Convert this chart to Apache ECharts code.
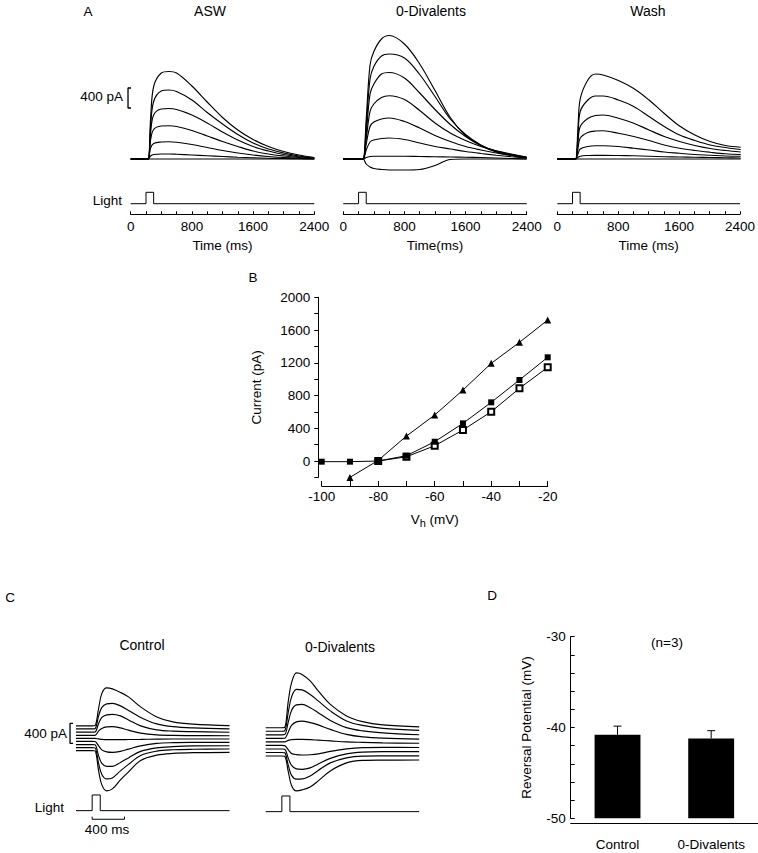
<!DOCTYPE html>
<html>
<head>
<meta charset="utf-8">
<script src="https://cdn.jsdelivr.net/npm/echarts@6/dist/echarts.min.js"></script>
<style>
  html, body { margin: 0; padding: 0; background: #fff; }
  #chart { width: 758px; height: 853px; }
</style>
</head>
<body>
<div id="chart"></div>
<script>
// ---------------- DATA ----------------
// Panel A: light-evoked currents (pA) vs time (ms)
const timeASW = [0, 200, 230, 260, 300, 400, 500, 600, 800, 1000, 1200, 1400, 1600, 1800, 2000, 2200, 2400];
const tracesASW = [
  [0, 0, 0, 800, 1450, 1720, 1750, 1720, 1460, 1140, 830, 580, 390, 250, 150, 80, 30],
  [0, 0, 0, 650, 1150, 1360, 1380, 1350, 1180, 930, 700, 490, 320, 200, 120, 60, 20],
  [0, 0, 0, 520, 880, 1000, 1010, 990, 880, 720, 540, 380, 250, 160, 90, 45, 15],
  [0, 0, 0, 380, 590, 660, 665, 650, 570, 460, 350, 250, 160, 100, 60, 30, 10],
  [0, 0, 0, 220, 310, 340, 345, 335, 290, 230, 170, 120, 80, 50, 30, 15, 5],
  [0, 0, 0, 60, 90, 100, 100, 95, 80, 65, 50, 35, 25, 15, 10, 5, 0],
  [0, 0, 0, 0, 0, 0, 0, 0, 0, 0, 0, 0, 0, 0, 0, 0, 0]
];
const timeZeroDiv = [0, 230, 260, 300, 350, 400, 500, 600, 800, 1000, 1200, 1400, 1600, 1800, 2000, 2200, 2400];
const tracesZeroDiv = [
  [0, 0, 0, 800, 1880, 2150, 2400, 2470, 2300, 1900, 1370, 830, 470, 270, 140, 70, 20],
  [0, 0, 0, 650, 1600, 1850, 2060, 2100, 2020, 1690, 1250, 800, 490, 280, 150, 80, 25],
  [0, 0, 0, 500, 1300, 1500, 1700, 1730, 1620, 1320, 990, 690, 450, 270, 160, 90, 30],
  [0, 0, 0, 400, 950, 1100, 1230, 1265, 1190, 970, 720, 520, 370, 250, 165, 100, 40],
  [0, 0, 0, 300, 650, 740, 800, 820, 750, 620, 470, 350, 250, 180, 120, 70, 30],
  [0, 0, 0, 180, 340, 380, 410, 420, 390, 320, 250, 200, 150, 110, 75, 45, 20],
  [0, 0, 0, 30, 50, 55, 55, 55, 55, 50, 45, 40, 35, 30, 20, 10, 0],
  [0, 0, 0, -100, -160, -190, -210, -220, -220, -210, -130, -10, 0, 0, 0, 0, 0]
];
const timeWash = [0, 210, 240, 270, 300, 400, 500, 600, 800, 1000, 1200, 1400, 1600, 1800, 2000, 2200, 2400];
const tracesWash = [
  [0, 0, 0, 600, 1200, 1580, 1700, 1680, 1570, 1410, 1180, 910, 660, 480, 350, 270, 235],
  [0, 0, 0, 450, 950, 1180, 1260, 1260, 1180, 1050, 850, 650, 480, 370, 280, 230, 190],
  [0, 0, 0, 320, 650, 810, 870, 880, 815, 715, 580, 450, 350, 270, 210, 170, 140],
  [0, 0, 0, 200, 420, 530, 560, 565, 515, 450, 370, 280, 215, 170, 135, 105, 90],
  [0, 0, 0, 100, 200, 250, 265, 265, 250, 215, 180, 140, 115, 90, 75, 60, 55],
  [0, 0, 0, 30, 55, 70, 73, 73, 70, 65, 55, 45, 40, 35, 30, 25, 20],
  [0, 0, 0, 0, 0, 0, 0, 0, 0, 0, 0, 0, 0, 0, 0, 0, 0]
];
const lightTimesA = [0, 200, 200, 300, 300, 2400];
const lightLevelsA = [0, 0, 1, 1, 0, 0];
const timeTicksA = [0, 800, 1600, 2400];

// Panel B: I-V relation
const ivVoltage = [-100, -90, -80, -70, -60, -50, -40, -30, -20];
const ivASW = [-8, -8, 0, 65, 236, 460, 717, 990, 1267];
const ivZeroDiv = [null, -200, 8, 305, 562, 867, 1193, 1450, 1722];
const ivWash = [null, null, 0, 52, 187, 379, 602, 888, 1145];

// Panel C: currents at several holding potentials (pA, incl. holding offset)
const timeC = [0, 200, 235, 280, 320, 380, 450, 550, 650, 800, 1000, 1200, 1450, 1900];
const tracesControlC = [
  [250, 250, 255, 600, 900, 1010, 990, 920, 830, 630, 430, 330, 285, 255],
  [190, 190, 195, 450, 620, 690, 700, 650, 560, 420, 290, 235, 210, 190],
  [125, 125, 128, 300, 420, 470, 480, 450, 370, 250, 170, 145, 135, 122],
  [60, 60, 60, 150, 200, 230, 235, 210, 165, 105, 70, 60, 56, 54],
  [0, 0, 0, -10, -20, -25, -25, -25, -22, -20, -15, -12, -12, -12],
  [-60, -60, -63, -150, -230, -270, -280, -260, -215, -150, -100, -85, -80, -78],
  [-125, -125, -128, -350, -500, -560, -560, -480, -390, -260, -190, -165, -150, -146],
  [-185, -185, -190, -500, -720, -810, -790, -650, -520, -340, -255, -228, -218, -212],
  [-245, -245, -250, -650, -930, -1050, -1010, -830, -670, -440, -335, -300, -285, -278]
];
const tracesZeroDivC = [
  [234, 234, 240, 770, 1130, 1330, 1300, 1170, 970, 700, 470, 355, 290, 250],
  [163, 163, 170, 550, 850, 1000, 990, 900, 770, 570, 370, 280, 220, 180],
  [92, 92, 96, 350, 580, 690, 700, 635, 535, 380, 235, 170, 130, 92],
  [21, 21, 23, 150, 280, 350, 365, 335, 290, 200, 100, 50, 25, 5],
  [-50, -50, -50, -20, -5, 0, 0, -5, -15, -30, -50, -60, -70, -78],
  [-120, -120, -125, -210, -280, -305, -312, -308, -290, -240, -190, -165, -160, -162],
  [-191, -191, -196, -380, -520, -590, -598, -570, -490, -380, -290, -255, -245, -245],
  [-262, -262, -268, -520, -720, -795, -790, -730, -620, -470, -370, -335, -330, -328],
  [-332, -332, -338, -650, -920, -1030, -1010, -950, -830, -630, -470, -420, -415, -412]
];
const lightTimesC = [0, 200, 200, 300, 300, 1900];
const lightLevelsC = [0, 0, 1, 1, 0, 0];

// Scale bars
const scaleBarPA = 400;   // pA
const scaleBarMS = 400;   // ms

// Panel D: reversal potential
const revCategories = ['Control', '0-Divalents'];
const revMeans = [-40.8, -41.2];
const revErrors = [0.95, 0.85];

// ---------------- CHART ----------------
const FONT = '"Liberation Sans", Arial, Helvetica, sans-serif';
const FS = 13.5;
const BLACK = '#000';

const chart = echarts.init(document.getElementById('chart'), null, { renderer: 'svg', width: 758, height: 853 });

// trace grids extend 200 ms to the left of time 0 so the scale brackets sit inside them
const grids = [
  { left: 115.4, top: 29, width: 198.9, height: 150 },    // 0 A ASW traces (-200..2400)
  { left: 130.7, top: 186.6, width: 183.6, height: 27.7 },// 1 A ASW light
  { left: 328.0, top: 29, width: 198.7, height: 150 },    // 2 A 0-Div traces
  { left: 343.3, top: 186.6, width: 183.4, height: 27.7 },// 3 A 0-Div light
  { left: 542.0, top: 29, width: 198.7, height: 150 },    // 4 A Wash traces
  { left: 557.3, top: 186.6, width: 183.4, height: 27.7 },// 5 A Wash light
  { left: 321.7, top: 297.3, width: 226, height: 180.1 }, // 6 B
  { left: 59.84, top: 668.4, width: 169.66, height: 140 },// 7 C control traces (-200..1900)
  { left: 76, top: 788.7, width: 153.5, height: 34.5 },   // 8 C control light
  { left: 249.54, top: 669.4, width: 169.66, height: 140 },// 9 C 0-div traces
  { left: 265.7, top: 789.7, width: 153.5, height: 34.5 },// 10 C 0-div light
  { left: 570.7, top: 636.7, width: 191.2, height: 181.6 }// 11 D
];

const hiddenX = (gi, min, max) => ({ gridIndex: gi, type: 'value', min, max, show: false });
const hiddenY = (gi, min, max) => ({ gridIndex: gi, type: 'value', min, max, show: false });

const timeAxis = (gi, name) => ({
  gridIndex: gi, type: 'value', min: 0, max: 2400, interval: 200,
  axisLine: { onZero: false, lineStyle: { color: BLACK, width: 1 } },
  axisTick: { inside: true, length: 3, lineStyle: { color: BLACK } },
  splitLine: { show: false },
  axisLabel: {
    color: BLACK, fontSize: FS, fontFamily: FONT, margin: 5,
    formatter: v => (timeTicksA.indexOf(v) >= 0 ? String(v) : '')
  },
  name, nameLocation: 'middle', nameGap: 24,
  nameTextStyle: { color: BLACK, fontSize: FS, fontFamily: FONT }
});

const xAxes = [
  hiddenX(0, -200, 2400), timeAxis(1, 'Time (ms)'),
  hiddenX(2, -200, 2400), timeAxis(3, 'Time(ms)'),
  hiddenX(4, -200, 2400), timeAxis(5, 'Time (ms)'),
  {
    gridIndex: 6, type: 'value', min: -100, max: -20, interval: 10, offset: 8.6,
    axisLine: { onZero: false, lineStyle: { color: BLACK, width: 1 } },
    axisTick: { inside: true, length: 5, lineStyle: { color: BLACK } },
    splitLine: { show: false },
    axisLabel: { color: BLACK, fontSize: FS, fontFamily: FONT, margin: 3,
      formatter: v => (v % 20 === 0 ? String(v) : '') },
    name: '{v|V}{h|h} (mV)', nameLocation: 'middle', nameGap: 24,
    nameTextStyle: { color: BLACK, fontSize: FS, fontFamily: FONT,
      rich: { v: { fontSize: FS, fontFamily: FONT, color: BLACK },
              h: { fontSize: 11, fontFamily: FONT, color: BLACK, padding: [7, 0, 0, 0] } } }
  },
  hiddenX(7, -200, 1900), hiddenX(8, 0, 1900), hiddenX(9, -200, 1900), hiddenX(10, 0, 1900),
  {
    gridIndex: 11, type: 'category', data: revCategories, offset: 5,
    axisLine: { onZero: false, lineStyle: { color: BLACK, width: 1 } },
    axisTick: { show: false },
    axisLabel: { color: BLACK, fontSize: FS, fontFamily: FONT, margin: 14 }
  }
];

const yAxes = [
  hiddenY(0, -400, 2600), hiddenY(1, -0.93, 1.5),
  hiddenY(2, -400, 2600), hiddenY(3, -0.93, 1.5),
  hiddenY(4, -400, 2600), hiddenY(5, -0.93, 1.5),
  {
    gridIndex: 6, type: 'value', min: -200, max: 2000, interval: 200, offset: 3.4,
    axisLine: { show: true, onZero: false, lineStyle: { color: BLACK, width: 1 } },
    axisTick: { show: true, inside: false, length: 4, lineStyle: { color: BLACK } },
    splitLine: { show: false },
    axisLabel: { color: BLACK, fontSize: FS, fontFamily: FONT, margin: 8,
      formatter: v => (v >= 0 && v % 400 === 0 ? String(v) : '') },
    name: 'Current (pA)', nameLocation: 'middle', nameGap: 55,
    nameTextStyle: { color: BLACK, fontSize: FS, fontFamily: FONT }
  },
  hiddenY(7, -1400, 1400), hiddenY(8, -0.8, 1.4), hiddenY(9, -1400, 1400), hiddenY(10, -0.8, 1.4),
  {
    gridIndex: 11, type: 'value', min: -50, max: -30, interval: 2,
    axisLine: { show: true, onZero: false, lineStyle: { color: BLACK, width: 1 } },
    axisTick: { show: true, inside: true, length: 4, lineStyle: { color: BLACK } },
    splitLine: { show: false },
    axisLabel: { color: BLACK, fontSize: FS, fontFamily: FONT, margin: 5,
      formatter: v => (v % 10 === 0 ? String(v) : '') },
    name: 'Reversal Potential (mV)', nameLocation: 'middle', nameGap: 37,
    nameTextStyle: { color: BLACK, fontSize: FS, fontFamily: FONT }
  }
];

const series = [];
function traceSeries(gi, times, traces) {
  traces.forEach(tr => {
    series.push({
      type: 'line', xAxisIndex: gi, yAxisIndex: gi,
      data: times.map((t, i) => [t, tr[i]]),
      showSymbol: false, symbol: 'none', smooth: 0.35, silent: true,
      lineStyle: { color: BLACK, width: 1.15 }, animation: false
    });
  });
}
function plainLine(gi, pts, width) {
  series.push({
    type: 'line', xAxisIndex: gi, yAxisIndex: gi, data: pts,
    showSymbol: false, symbol: 'none', silent: true, clip: false,
    lineStyle: { color: BLACK, width: width || 1 }, animation: false
  });
}

traceSeries(0, timeASW, tracesASW);
traceSeries(2, timeZeroDiv, tracesZeroDiv);
traceSeries(4, timeWash, tracesWash);
[1, 3, 5].forEach(gi => plainLine(gi, lightTimesA.map((t, i) => [t, lightLevelsA[i]])));
// 400 pA scale bracket in panel A
plainLine(0, [[4, 1020 + scaleBarPA], [-35, 1020 + scaleBarPA], [-35, 1020], [4, 1020]], 1.3);

// Panel B
series.push({
  type: 'line', xAxisIndex: 6, yAxisIndex: 6, name: 'Wash',
  data: ivVoltage.map((v, i) => [v, ivWash[i]]),
  symbol: 'emptyRect', symbolSize: 6, showAllSymbol: true,
  lineStyle: { color: BLACK, width: 1 }, itemStyle: { color: BLACK, borderColor: BLACK, borderWidth: 1 },
  animation: false
});
series.push({
  type: 'line', xAxisIndex: 6, yAxisIndex: 6, name: 'ASW',
  data: ivVoltage.map((v, i) => [v, ivASW[i]]),
  symbol: 'rect', symbolSize: 6,
  lineStyle: { color: BLACK, width: 1 }, itemStyle: { color: BLACK },
  animation: false
});
series.push({
  type: 'line', xAxisIndex: 6, yAxisIndex: 6, name: '0-Divalents',
  data: ivVoltage.map((v, i) => [v, ivZeroDiv[i]]),
  symbol: 'triangle', symbolSize: 7,
  lineStyle: { color: BLACK, width: 1 }, itemStyle: { color: BLACK },
  animation: false
});

// Panel C
traceSeries(7, timeC, tracesControlC);
traceSeries(9, timeC, tracesZeroDivC);
[8, 10].forEach(gi => plainLine(gi, lightTimesC.map((t, i) => [t, lightLevelsC[i]])));
plainLine(7, [[-37, 300], [-74, 300], [-74, 300 - scaleBarPA], [-37, 300 - scaleBarPA]], 1.3);
plainLine(8, [[200, -0.38], [200, -0.55], [200 + scaleBarMS, -0.55], [200 + scaleBarMS, -0.38]]);

// Panel D
series.push({
  type: 'custom', xAxisIndex: 11, yAxisIndex: 11, animation: false, silent: true,
  data: revCategories.map((c, i) => [i, revMeans[i], revErrors[i]]),
  encode: { x: 0, y: 1 },
  renderItem: (params, api) => {
    const i = api.value(0), v = api.value(1), e = api.value(2);
    const top = api.coord([i, v]);
    const base = api.coord([i, -50]);
    const errTop = api.coord([i, v + e]);
    const bw = api.size([1, 0])[0] * 0.49;
    return {
      type: 'group',
      children: [
        { type: 'rect', shape: { x: top[0] - bw / 2, y: top[1], width: bw, height: base[1] - top[1] },
          style: { fill: BLACK } },
        { type: 'line', shape: { x1: top[0], y1: top[1], x2: top[0], y2: errTop[1] },
          style: { stroke: BLACK, lineWidth: 1 } },
        { type: 'line', shape: { x1: top[0] - 4, y1: errTop[1], x2: top[0] + 4, y2: errTop[1] },
          style: { stroke: BLACK, lineWidth: 1 } }
      ]
    };
  }
});

function txt(text, x, y, align, size) {
  return { type: 'text', x, y, silent: true,
    style: { text, fill: BLACK, fontSize: size || FS, fontFamily: FONT,
      textAlign: align || 'center', textVerticalAlign: 'middle',
      align: align || 'center', verticalAlign: 'middle' } };
}

const graphic = [
  txt('A', 88, 11),
  txt('ASW', 210, 11, 'center', 14),
  txt('0-Divalents', 431, 11, 'center', 14),
  txt('Wash', 648, 11, 'center', 14),
  txt('400 pA', 123, 96, 'right'),
  txt('Light', 122, 200, 'right'),
  txt('B', 253, 277),
  txt('C', 10, 597),
  txt('D', 492, 595),
  txt('Control', 142, 645, 'center', 14),
  txt('0-Divalents', 340, 647, 'center', 14),
  txt('400 pA', 67, 733, 'right'),
  txt('Light', 64, 807, 'right'),
  txt('400 ms', 107, 829),
  txt('(n=3)', 667, 642)
];

chart.setOption({
  animation: false,
  backgroundColor: '#fff',
  grid: grids,
  xAxis: xAxes,
  yAxis: yAxes,
  series,
  graphic
});
</script>
</body>
</html>
